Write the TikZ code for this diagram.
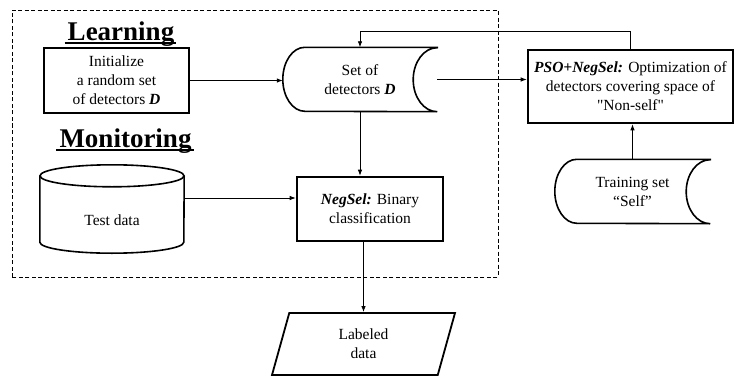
\documentclass[tikz,border=0pt]{standalone}
\usepackage{fontspec}
\setmainfont[Ligatures=TeXOff]{Liberation Serif}
\usetikzlibrary{shapes.geometric,arrows.meta}
\pgfkeys{tikz/plain/.style={align=center,inner sep=0pt,font=\fontsize{15.5bp}{19bp}\selectfont}}
\pgfkeys{tikz/procbox/.style={plain,draw,line width=2.6bp}}
\pgfkeys{tikz/heading/.style={inner sep=0pt,anchor=base,font=\fontsize{27bp}{30bp}\selectfont\bfseries}}
\pgfkeys{tikz/flow/.style={-{Latex[length=6bp,width=4.5bp]},line width=0.8bp}}
% stored data: round left side, hollow right side
\newcommand*\storedshape[1]{\draw[line width=1.6bp] (#1.north east) -- ([xshift=22bp]#1.north west)
  arc[start angle=90,end angle=270,x radius=22bp,y radius=32bp] -- (#1.south east)
  arc[start angle=270,end angle=90,x radius=24bp,y radius=32bp] -- cycle;}
% drum for the data base
\newcommand*\drumshape[1]{%
  \draw[line width=1.6bp] ([yshift=11bp]#1.north) ellipse[x radius=72bp,y radius=11bp];
  \draw[line width=1.6bp] ([yshift=11bp]#1.north west) -- ([yshift=11bp]#1.south west)
    arc[start angle=180,end angle=360,x radius=72bp,y radius=11bp] -- ([yshift=11bp]#1.north east);}
\newcommand*\underlineit[1]{\draw[line width=1.8bp] ([xshift=-3bp,yshift=-3bp]#1.base west) -- ([xshift=2bp,yshift=-3bp]#1.base east);}

\begin{document}
\begin{tikzpicture}[x=1bp,y=1bp]
\useasboundingbox (0,0) rectangle (735,378);

% learning / monitoring part
\draw[line width=0.8bp,dash pattern=on 4bp off 2.5bp] (12,101) rectangle (498,368);

\node[heading] (learn) at (121,338) {Learning};
\node[heading] (monit) at (125.5,231) {Monitoring};
\underlineit{learn}
\underlineit{monit}

\node[procbox,minimum width=145bp,minimum height=65bp] (init) at (116.5,297.5)
  {Initialize\\a random set\\of detectors \textbf{\textit{D}}};
\node[plain,minimum width=154bp,minimum height=64bp] (set) at (360,298.5)
  {Set of\\detectors \textbf{\textit{D}}};
\storedshape{set}
\node[plain,minimum width=144bp,minimum height=66bp] (test) at (112,158) {Test data};
\drumshape{test}
\node[procbox,minimum width=146bp,minimum height=64bp] (negsel) at (370,169)
  {\textbf{\textit{NegSel:}} Binary\\classification};

% optimization part
\node[procbox,minimum width=205bp,minimum height=73bp] (pso) at (630.5,291.5)
  {\textbf{\textit{PSO+NegSel:}} Optimization of\\detectors covering space of\\"Non-self"};
\node[plain,minimum width=155bp,minimum height=64bp] (train) at (632.5,186.5)
  {Training set\\“Self”};
\storedshape{train}

\node[plain,draw,line width=1.8bp,trapezium,trapezium left angle=60,trapezium right angle=120,
  trapezium stretches body,minimum width=183bp,minimum height=62bp] (label) at (363.5,34)
  {Labeled\\data};

% arrows
\coordinate (back) at (0,347);
\draw[flow] (init.east) -- (init.east -| set.west);
\draw[flow] (set.east) -- (set.east -| pso.west);
\draw[flow] (pso.north) -- (pso.north |- back) -- (set.north |- back) -- (set.north);
\draw[flow] (set.south) -- (set.south |- negsel.north);
\draw[flow] ([yshift=22bp]test.east) -- ([yshift=22bp]test.east -| negsel.west);
\draw[flow] (negsel.south -| label.north) -- (label.north);
\draw[flow] (train.north) -- (train.north |- pso.south);

\end{tikzpicture}
\end{document}
